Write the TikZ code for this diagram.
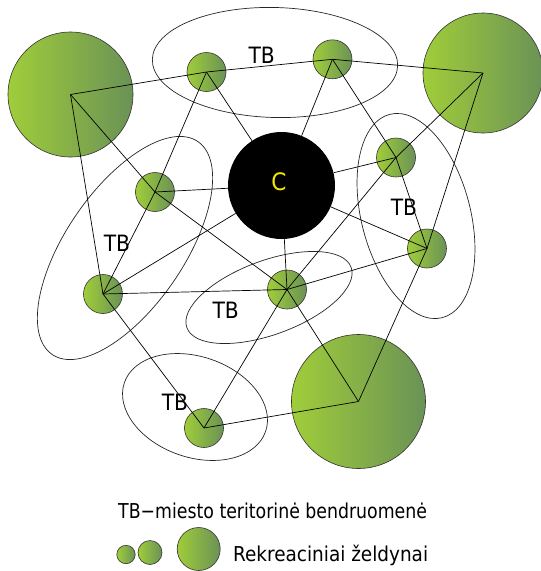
\documentclass[tikz,border=0pt]{standalone}
\usepackage{graphicx}
\usepackage{fontspec}
\setmainfont{DejaVu Sans Condensed}
\usetikzlibrary{shapes.geometric}
\definecolor{parklight}{RGB}{160,205,58}
\definecolor{parkdark}{RGB}{106,146,86}
\definecolor{hubtext}{RGB}{240,235,0}
\begin{document}
\begin{tikzpicture}[x=1pt,y=-1pt,
  park/.style={circle, draw=black!80, line width=0.6pt, inner sep=0pt,
    left color=parklight, right color=parkdark},
  hub/.style={circle, fill=black, inner sep=0pt, minimum size=107pt},
  zone/.style={ellipse, draw=black!85, line width=0.7pt, inner sep=0pt},
  link/.style={draw=black, line width=0.7pt},
  tblabel/.style={inner sep=0pt, font=\fontsize{22.5}{24}\selectfont},
  legendtext/.style={inner sep=0pt, anchor=base west, font=\fontsize{20.5}{22}\selectfont}]
\useasboundingbox (0,0) rectangle (541,571);

% territorial communities
\node[zone, minimum width=245.4pt, minimum height=110pt, rotate=-1.5] (e1) at (275,62.5) {};
\node[zone, minimum width=258pt, minimum height=118pt, rotate=55.6] (e2) at (125,248) {};
\node[zone, minimum width=210pt, minimum height=109pt, rotate=-75.5] (e3) at (416,216) {};
\node[zone, minimum width=175pt, minimum height=74pt, rotate=20.2] (e4) at (269,297.5) {};
\node[zone, minimum width=149.4pt, minimum height=100.6pt, rotate=-19.1] (e5) at (195,407) {};

% recreational green areas
\node[park, minimum size=125pt] (A) at (70.5,94.5) {};
\node[park, minimum size=120pt] (B) at (483,73) {};
\node[park, minimum size=134pt] (D) at (358.5,401.5) {};
\node[park, minimum size=39pt] (s1) at (206.5,72) {};
\node[park, minimum size=39pt] (s2) at (332.5,59.3) {};
\node[park, minimum size=39pt] (s3) at (155,192) {};
\node[park, minimum size=39pt] (s4) at (103,294) {};
\node[park, minimum size=39pt] (s5) at (287,289.5) {};
\node[park, minimum size=39pt] (s6) at (396,157.5) {};
\node[park, minimum size=39pt] (s7) at (427,248.5) {};
\node[park, minimum size=39pt] (s8) at (204,428) {};

% city centre
\node[hub] (C) at (281.5,185.5) {};
\node[inner sep=0pt, text=hubtext, font=\fontsize{24}{24}\selectfont] (Clabel) at (279,182) {C};

% connections
\draw[link] (A.center) -- (s1.center);
\draw[link] (A.center) -- (s3.center);
\draw[link] (A.center) -- (s4.center);
\draw[link] (s1.center) -- (s2.center);
\draw[link] (s1.center) -- (s3.center);
\draw[link] (s1.center) -- (C);
\draw[link] (s2.center) -- (B.center);
\draw[link] (s2.center) -- (C);
\draw[link] (s2.center) -- (s6.center);
\draw[link] (B.center) -- (s6.center);
\draw[link] (B.center) -- (s7.center);
\draw[link] (C) -- (s3.center);
\draw[link] (C) -- (s4.center);
\draw[link] (C) -- (s5.center);
\draw[link] (C) -- (s6.center);
\draw[link] (C) -- (s7.center);
\draw[link] (s3.center) -- (s4.center);
\draw[link] (s3.center) -- (s5.center);
\draw[link] (s4.center) -- (s5.center);
\draw[link] (s4.center) -- (s8.center);
\draw[link] (s5.center) -- (s6.center);
\draw[link] (s5.center) -- (s7.center);
\draw[link] (s5.center) -- (s8.center);
\draw[link] (s5.center) -- (D.center);
\draw[link] (s6.center) -- (s7.center);
\draw[link] (s7.center) -- (D.center);
\draw[link] (s8.center) -- (D.center);

% community labels
\node[tblabel] (t1) at (261.7,55) {TB};
\node[tblabel] (t2) at (117,243) {TB};
\node[tblabel] (t3) at (404,207) {TB};
\node[tblabel] (t4) at (225.7,310) {TB};
\node[tblabel] (t5) at (175,402) {TB};

% legend
\node[legendtext] (leg1) at (118,518.3) {\scalebox{0.94}[1]{TB−miesto teritorinė bendruomenė}};
\node[park, minimum size=18.4pt] (g1) at (126,554.5) {};
\node[park, minimum size=24pt] (g2) at (150,552.5) {};
\node[park, minimum size=43pt] (g3) at (198.7,549) {};
\node[legendtext] (leg2) at (233,561) {Rekreaciniai želdynai};
\end{tikzpicture}
\end{document}
